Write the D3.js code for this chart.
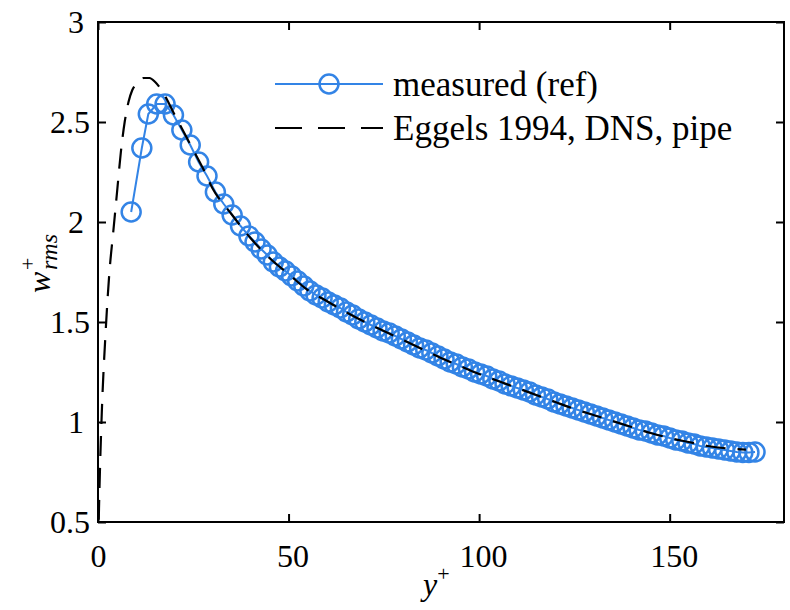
<!DOCTYPE html>
<html><head><meta charset="utf-8">
<script src="https://cdn.jsdelivr.net/npm/d3@7"></script>
<style>body{margin:0;background:#fff}</style>
</head><body>
<svg id="c" width="790" height="610"></svg>
<script>
// measured (ref): y+ and w_rms+
const measuredY = [8.7, 11.5, 13.2, 15.4, 17.6, 19.8, 22.0, 24.2, 26.4, 28.6, 30.8, 33.0, 35.2, 37.4,
  39.6, 41.2, 42.8, 44.4, 46.0, 47.6, 49.2, 50.8, 52.4, 54.0, 55.6, 57.2, 58.8, 60.4, 62.0, 63.6, 65.2, 66.8, 68.4, 70.0,
  71.6, 73.2, 74.8, 76.4, 78.0, 79.6, 81.2, 82.8, 84.4, 86.0, 87.6, 89.2, 90.8, 92.4, 94.0, 95.6, 97.2, 98.8, 100.4, 102.0,
  103.6, 105.2, 106.8, 108.4, 110.0, 111.6, 113.2, 114.8, 116.4, 118.0, 119.6, 121.2, 122.8, 124.4, 126.0, 127.6, 129.2, 130.8,
  132.4, 134.0, 135.6, 137.2, 138.8, 140.4, 142.0, 143.6, 145.2, 146.8, 148.4, 150.0, 151.6, 153.2, 154.8, 156.4, 158.0, 159.6,
  161.2, 162.8, 164.4, 166.0, 167.6, 169.2, 170.8, 172.4];
const measuredW = [2.05, 2.37, 2.54, 2.59, 2.59, 2.535, 2.46, 2.385, 2.30, 2.23, 2.15, 2.09, 2.035, 1.98,
  1.93, 1.90, 1.865, 1.835, 1.80, 1.775, 1.755, 1.73, 1.705, 1.68, 1.655, 1.635, 1.62, 1.60, 1.585, 1.57, 1.55, 1.535, 1.515, 1.50,
  1.485, 1.47, 1.455, 1.445, 1.43, 1.415, 1.40, 1.385, 1.37, 1.36, 1.345, 1.33, 1.315, 1.30, 1.29, 1.275, 1.265, 1.25, 1.24, 1.23,
  1.215, 1.205, 1.19, 1.18, 1.17, 1.16, 1.15, 1.135, 1.125, 1.115, 1.10, 1.09, 1.08, 1.07, 1.06, 1.05, 1.04, 1.03,
  1.02, 1.01, 1.0, 0.99, 0.98, 0.97, 0.96, 0.955, 0.945, 0.935, 0.93, 0.92, 0.91, 0.905, 0.895, 0.89, 0.88, 0.875,
  0.87, 0.865, 0.86, 0.855, 0.85, 0.848, 0.848, 0.85];
// Eggels 1994, DNS, pipe
const dnsY = [0, 0.5, 1, 2, 3, 4, 5, 6, 7, 8, 9, 10, 12, 13.5, 15, 17, 20, 22.5, 25, 27.5, 30, 35, 40, 45, 50, 55, 60, 65, 70, 75,
  80, 85, 90, 95, 100, 105, 110, 115, 120, 125, 130, 135, 140, 145, 150, 155, 160, 165, 170];
const dnsW = [0.35, 0.75, 1.05, 1.45, 1.75, 1.95, 2.15, 2.35, 2.5, 2.6, 2.66, 2.69, 2.72, 2.72, 2.70, 2.65, 2.54, 2.45, 2.36, 2.27, 2.17, 2.04, 1.92, 1.82, 1.74, 1.66, 1.605, 1.55, 1.50, 1.455,
  1.41, 1.365, 1.32, 1.28, 1.24, 1.205, 1.17, 1.135, 1.10, 1.065, 1.035, 1.005, 0.975, 0.945, 0.92, 0.90, 0.88, 0.868, 0.862];
const xTicks = [0, 50, 100, 150];
const yTicks = [0.5, 1, 1.5, 2, 2.5, 3];
const legendLabels = ["measured (ref)", "Eggels 1994, DNS, pipe"];

const BLUE = "#3384e6";
const FONT = "'Liberation Serif','Times New Roman',serif";
const svg = d3.select("#c");
const L = 98, R = 784, T = 22, B = 522;
const x = d3.scaleLinear().domain([0, 180]).range([L, R]);
const y = d3.scaleLinear().domain([0.5, 3]).range([B, T]);

svg.append("defs").append("clipPath").attr("id", "clip")
  .append("rect").attr("x", L).attr("y", T).attr("width", R - L).attr("height", B - T);

// measured line + circles
const meas = measuredY.map((v, i) => [v, measuredW[i]]);
const line = d3.line().x(d => x(d[0])).y(d => y(d[1]));
svg.append("path").datum(meas).attr("d", line)
  .attr("fill", "none").attr("stroke", BLUE).attr("stroke-width", 2);
svg.append("g").selectAll("circle").data(meas).join("circle")
  .attr("cx", d => x(d[0])).attr("cy", d => y(d[1])).attr("r", 9.5)
  .attr("fill", "none").attr("stroke", BLUE).attr("stroke-width", 2.5);

// DNS dashed
const dns = dnsY.map((v, i) => [v, dnsW[i]]);
svg.append("path").datum(dns).attr("clip-path", "url(#clip)")
  .attr("d", d3.line().curve(d3.curveMonotoneX).x(d => x(d[0])).y(d => y(d[1])))
  .attr("fill", "none").attr("stroke", "#000").attr("stroke-width", 2.2)
  .attr("stroke-dasharray", "20,12");

// axes
function styleAxis(g) {
  g.selectAll(".domain").remove();
  g.selectAll("line").attr("stroke", "#000").attr("stroke-width", 2);
  g.selectAll("text").attr("font-family", FONT).attr("font-size", 32).attr("fill", "#000");
}
const gx = svg.append("g").attr("transform", `translate(0,${B})`)
  .call(d3.axisBottom(x).tickValues(xTicks).tickSize(-8).tickPadding(22).tickFormat(d3.format("d")));
styleAxis(gx);
gx.selectAll("text").attr("dx", d => d > 0 ? 4 : 0);
svg.append("g").attr("transform", `translate(0,${T})`)
  .call(d3.axisTop(x).tickValues(xTicks).tickSize(-8).tickFormat("")).call(styleAxis);
const gy = svg.append("g").attr("transform", `translate(${L},0)`)
  .call(d3.axisLeft(y).tickValues(yTicks).tickSize(-8).tickPadding(8).tickFormat(d3.format("~g")));
styleAxis(gy);
gy.selectAll("text").attr("dx", d => Number.isInteger(d) ? -6 : 0).attr("dy", "0.34em");
svg.append("g").attr("transform", `translate(${R},0)`)
  .call(d3.axisRight(y).tickValues(yTicks).tickSize(-8).tickFormat("")).call(styleAxis);
svg.append("rect").attr("x", L).attr("y", T).attr("width", R - L).attr("height", B - T)
  .attr("fill", "none").attr("stroke", "#000").attr("stroke-width", 2);

// axis labels
const xl = svg.append("text").attr("x", 423).attr("y", 595)
  .attr("font-family", FONT).attr("font-size", 32).attr("font-style", "italic");
xl.append("tspan").text("y");
xl.append("tspan").attr("font-size", 22).attr("font-style", "normal").attr("dy", -14).text("+");

const yl = svg.append("g").attr("transform", "translate(50,293) rotate(-90)")
  .attr("font-family", FONT).attr("font-style", "italic");
yl.append("text").attr("x", 0).attr("y", 0).attr("font-size", 32).text("w");
yl.append("text").attr("x", 23).attr("y", -15).attr("font-size", 22).attr("font-style", "normal").text("+");
yl.append("text").attr("x", 23).attr("y", 7).attr("font-size", 24).text("rms");

// legend
const lg = svg.append("g");
const ly = [84, 128];
lg.append("line").attr("x1", 275).attr("x2", 383).attr("y1", ly[0]).attr("y2", ly[0])
  .attr("stroke", BLUE).attr("stroke-width", 2);
lg.append("circle").attr("cx", 329).attr("cy", ly[0]).attr("r", 9.5)
  .attr("fill", "none").attr("stroke", BLUE).attr("stroke-width", 2.5);
lg.append("line").attr("x1", 275).attr("x2", 383).attr("y1", ly[1]).attr("y2", ly[1])
  .attr("stroke", "#000").attr("stroke-width", 2.2).attr("stroke-dasharray", "27,16");
lg.selectAll("text.leg").data(legendLabels).join("text").attr("class", "leg")
  .attr("x", 393).attr("y", (d, i) => ly[i]).attr("dy", "0.33em")
  .attr("font-family", FONT).attr("font-size", 35).text(d => d);
</script>
</body></html>
